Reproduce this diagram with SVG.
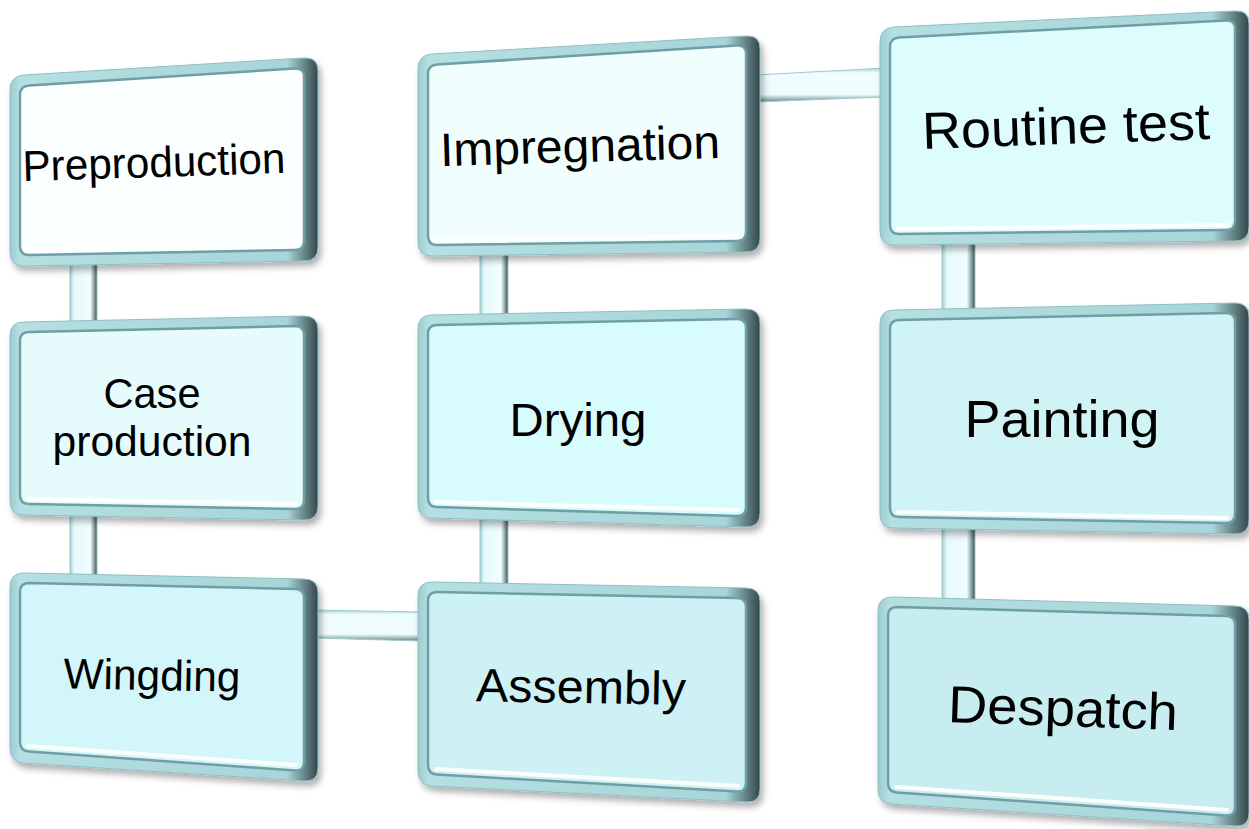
<svg xmlns="http://www.w3.org/2000/svg" width="1249" height="829" viewBox="0 0 1249 829">
<defs>
<style>
.frame{fill:url(#frameG);stroke:#8fbfc4;stroke-width:1;filter:url(#sh)}
.face{stroke:#6f9fa4;stroke-width:2.5;stroke-linejoin:round}
.hl{stroke:#ffffff;stroke-width:4;stroke-linecap:round;opacity:0.95}
.vbar{fill:url(#vbarG);stroke:#9fc9cd;stroke-width:1}
.hbar{fill:url(#hbarG);stroke:#9fc9cd;stroke-width:1}
text{font-family:"Liberation Sans",Arial,sans-serif;fill:#000;text-anchor:middle}
</style>
<linearGradient id="frameG" x1="0" y1="0" x2="1" y2="0">
<stop offset="0" stop-color="#9ccbd0"/>
<stop offset="0.03" stop-color="#b4dfe3"/>
<stop offset="0.9" stop-color="#a8d5d9"/>
<stop offset="0.95" stop-color="#6e8e91"/>
<stop offset="1" stop-color="#34474a"/>
</linearGradient>
<linearGradient id="vbarG" x1="0" y1="0" x2="1" y2="0">
<stop offset="0" stop-color="#9fcfd3"/>
<stop offset="0.15" stop-color="#e6fafb"/>
<stop offset="0.75" stop-color="#f2fdfe"/>
<stop offset="0.85" stop-color="#a9bfc1"/>
<stop offset="1" stop-color="#3d4f51"/>
</linearGradient>
<linearGradient id="hbarG" x1="0" y1="0" x2="0" y2="1">
<stop offset="0" stop-color="#a6d4d8"/>
<stop offset="0.15" stop-color="#f0fdfe"/>
<stop offset="0.78" stop-color="#eefcfd"/>
<stop offset="0.9" stop-color="#a5bcbe"/>
<stop offset="1" stop-color="#6b8082"/>
</linearGradient>
<filter id="sh" x="-5%" y="-5%" width="112%" height="115%">
<feDropShadow dx="3" dy="5" stdDeviation="3" flood-color="#000" flood-opacity="0.3"/>
</filter>
</defs>
<rect width="1249" height="829" fill="#ffffff"/>

<g id="connectors">
<rect class="vbar" x="70" y="262" width="27" height="62"/>
<rect class="vbar" x="70" y="514" width="27" height="62"/>
<rect class="vbar" x="480" y="250" width="28" height="68"/>
<rect class="vbar" x="480" y="520" width="28" height="66"/>
<rect class="vbar" x="942" y="238" width="33" height="74"/>
<rect class="vbar" x="942" y="528" width="33" height="72"/>
<polygon class="hbar" points="314,610 422,612 422,641 314,638"/>
<polygon class="hbar" points="756,75 884,68 884,97 756,102"/>
</g>

<g id="node-preproduction">
<path class="frame" d="M10,90 Q10,76 24,75 L304,58 Q318,57 318,71 L318,247 Q318,261 304,261 L24,266 Q10,266 10,252 Z"/>
<path class="face" fill="#fbffff" d="M20,95 Q20,86 29,85.5 L295,68.5 Q304,68 304,77 L304,241 Q304,250 295,250 L29,255 Q20,255 20,246 Z"/>
<line class="hl" x1="28" y1="250" x2="296" y2="245"/>
<text x="154" y="177" font-size="43" textLength="263" lengthAdjust="spacingAndGlyphs" transform="rotate(-1.8 154 165)">Preproduction</text>
</g>

<g id="node-case">
<path class="frame" d="M10,336 Q10,322 24,322 L304,316 Q318,316 318,330 L318,506 Q318,520 304,520 L24,515 Q10,515 10,501 Z"/>
<path class="face" fill="#e6fbfc" d="M20,341 Q20,332 29,332 L295,326 Q304,326 304,335 L304,500 Q304,509 295,509 L29,504 Q20,504 20,495 Z"/>
<line class="hl" x1="28" y1="499" x2="296" y2="504"/>
<text x="152" y="408" font-size="43" textLength="97" lengthAdjust="spacingAndGlyphs">Case</text>
<text x="152" y="456" font-size="43" textLength="199" lengthAdjust="spacingAndGlyphs">production</text>
</g>

<g id="node-wingding">
<path class="frame" d="M10,587 Q10,573 24,573 L304,579 Q318,579 318,593 L318,768 Q318,782 304,781 L24,763 Q10,762 10,748 Z"/>
<path class="face" fill="#d2f6f9" d="M20,592 Q20,583 29,583 L295,589 Q304,589 304,598 L304,762 Q304,771 295,770.5 L29,751.5 Q20,751 20,742 Z"/>
<line class="hl" x1="28" y1="746" x2="296" y2="765"/>
<text x="152" y="690" font-size="43" textLength="177" lengthAdjust="spacingAndGlyphs" transform="rotate(1.2 152 675)">Wingding</text>
</g>

<g id="node-impregnation">
<path class="frame" d="M418,69 Q418,55 432,54 L746,36 Q760,35 760,49 L760,238 Q760,252 746,252 L432,256 Q418,256 418,242 Z"/>
<path class="face" fill="#f0fefe" d="M428,74 Q428,65 437,64.5 L737,45.5 Q746,45 746,54 L746,232 Q746,241 737,241 L437,245 Q428,245 428,236 Z"/>
<line class="hl" x1="436" y1="240" x2="738" y2="236"/>
<text x="580" y="162" font-size="47" textLength="280" lengthAdjust="spacingAndGlyphs" transform="rotate(-1.7 580 148)">Impregnation</text>
</g>

<g id="node-drying">
<path class="frame" d="M418,329 Q418,315 432,315 L746,309 Q760,309 760,323 L760,513 Q760,527 746,527 L432,518 Q418,518 418,504 Z"/>
<path class="face" fill="#d8fbfd" d="M428,334 Q428,325 437,325 L737,319 Q746,319 746,328 L746,507 Q746,516 737,516 L437,507 Q428,507 428,498 Z"/>
<line class="hl" x1="436" y1="502" x2="738" y2="510"/>
<text x="578" y="436" font-size="47" textLength="137" lengthAdjust="spacingAndGlyphs">Drying</text>
</g>

<g id="node-assembly">
<path class="frame" d="M418,596 Q418,582 432,582 L746,588 Q760,588 760,602 L760,789 Q760,803 746,802 L432,786 Q418,785 418,771 Z"/>
<path class="face" fill="#cdf1f4" d="M428,601 Q428,592 437,592 L737,598 Q746,598 746,607 L746,783 Q746,792 737,791.5 L437,774.5 Q428,774 428,765 Z"/>
<line class="hl" x1="436" y1="769" x2="738" y2="786"/>
<text x="581" y="703" font-size="47" textLength="210" lengthAdjust="spacingAndGlyphs" transform="rotate(1 581 688)">Assembly</text>
</g>

<g id="node-routine">
<path class="frame" d="M880,42 Q880,28 894,27 L1235,11 Q1249,10 1249,24 L1249,227 Q1249,241 1235,241 L894,245 Q880,245 880,231 Z"/>
<path class="face" fill="#dcfcfd" d="M890,47 Q890,38 899,37.5 L1226,20.5 Q1235,20 1235,29 L1235,221 Q1235,230 1226,230 L899,234 Q890,234 890,225 Z"/>
<line class="hl" x1="898" y1="229" x2="1227" y2="225"/>
<text x="1066" y="144" font-size="52" textLength="288" lengthAdjust="spacingAndGlyphs" transform="rotate(-2 1066 128)">Routine test</text>
</g>

<g id="node-painting">
<path class="frame" d="M880,324 Q880,310 894,310 L1235,303 Q1249,303 1249,317 L1249,520 Q1249,534 1235,534 L894,528 Q880,528 880,514 Z"/>
<path class="face" fill="#d0f3f6" d="M890,329 Q890,320 899,320 L1226,313 Q1235,313 1235,322 L1235,514 Q1235,523 1226,523 L899,517 Q890,517 890,508 Z"/>
<line class="hl" x1="898" y1="512" x2="1227" y2="518"/>
<text x="1062" y="437" font-size="52" textLength="195" lengthAdjust="spacingAndGlyphs">Painting</text>
</g>

<g id="node-despatch">
<path class="frame" d="M878,611 Q878,597 892,597 L1235,606 Q1249,606 1249,620 L1249,813 Q1249,827 1235,826 L892,804 Q878,803 878,789 Z"/>
<path class="face" fill="#c7edf0" d="M888,616 Q888,607 897,607 L1226,616 Q1235,616 1235,625 L1235,807 Q1235,816 1226,815.5 L897,792.5 Q888,792 888,783 Z"/>
<line class="hl" x1="896" y1="787" x2="1227" y2="810"/>
<text x="1063" y="726" font-size="52" textLength="230" lengthAdjust="spacingAndGlyphs" transform="rotate(2 1063 710)">Despatch</text>
</g>
</svg>
